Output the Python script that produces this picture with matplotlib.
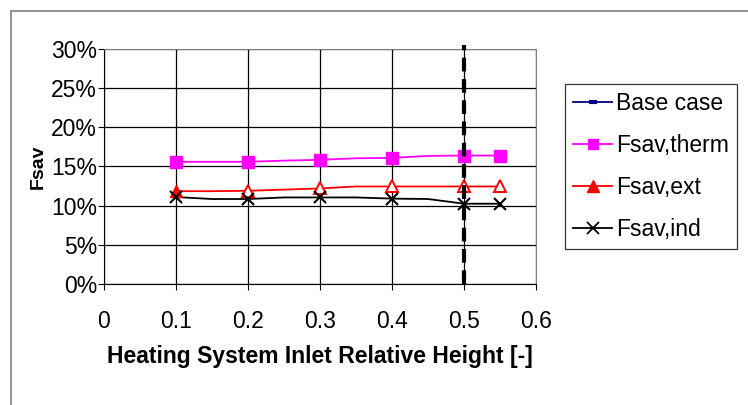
import matplotlib
matplotlib.use("Agg")
import matplotlib.pyplot as plt
from matplotlib.lines import Line2D
from matplotlib.patches import Rectangle

plt.rcParams['font.family'] = ['Liberation Sans', 'DejaVu Sans']

# line data (every 0.05)
x_line = [0.10, 0.15, 0.20, 0.25, 0.30, 0.35, 0.40, 0.45, 0.50, 0.55]
therm_line = [15.6, 15.6, 15.6, 15.75, 15.85, 16.05, 16.1, 16.35, 16.4, 16.4]
ext_line = [11.85, 11.85, 11.9, 12.05, 12.2, 12.45, 12.45, 12.45, 12.45, 12.45]
ind_line = [11.1, 10.85, 10.85, 11.05, 11.05, 11.05, 10.9, 10.85, 10.25, 10.25]

# marker data
x_mark = [0.1, 0.2, 0.3, 0.4, 0.5, 0.55]
therm_mark = [15.6, 15.6, 15.85, 16.1, 16.4, 16.4]
ext_mark = [11.85, 11.9, 12.2, 12.45, 12.45, 12.45]
ind_mark = [11.1, 10.85, 11.05, 10.9, 10.25, 10.25]

base_x = 0.5
x_ticks = [0, 0.1, 0.2, 0.3, 0.4, 0.5, 0.6]
x_ticklabels = ['0', '0.1', '0.2', '0.3', '0.4', '0.5', '0.6']
y_ticks = [0, 5, 10, 15, 20, 25, 30]
y_ticklabels = ['0%', '5%', '10%', '15%', '20%', '25%', '30%']

fig = plt.figure(figsize=(7.48, 4.05), dpi=100)
fig.patches.append(Rectangle((11/748, -0.1), 1.2, (405-11)/405 + 0.1,
                             transform=fig.transFigure, fill=False,
                             edgecolor='#808080', linewidth=1.2))
ax = fig.add_axes([104/748, (405-284)/405, 432/748, 235/405])

ax.set_xlim(0, 0.6)
ax.set_ylim(0, 30)
ax.set_xticks(x_ticks)
ax.set_xticklabels(x_ticklabels)
ax.set_yticks(y_ticks)
ax.set_yticklabels(y_ticklabels)
ax.grid(True, color='black', linewidth=0.9)
ax.set_axisbelow(True)
for s in ['top', 'right']:
    ax.spines[s].set_color('#808080')
for s in ['left', 'bottom']:
    ax.spines[s].set_color('black')
ax.tick_params(direction='out', length=4, labelsize=16.5, pad=1)
ax.tick_params(axis='x', pad=15)

# base case vertical dashed
ax.plot([base_x, base_x], [0, 30.5], color='black', linewidth=3,
        linestyle=(0, (3.3, 1.8)), clip_on=False, zorder=5)

ax.plot(x_line, therm_line, color='#ff00ff', linewidth=1.3, zorder=3)
ax.plot(x_mark, therm_mark, linestyle='none', marker='s', markersize=8,
        color='#ff00ff', zorder=4)
ax.plot(x_line, ext_line, color='red', linewidth=1.3, zorder=3)
ax.plot(x_mark[:1], ext_mark[:1], linestyle='none', marker='^', markersize=8,
        color='red', zorder=4)
ax.plot(x_mark[1:], ext_mark[1:], linestyle='none', marker='^', markersize=9,
        markerfacecolor='white', markeredgecolor='red', markeredgewidth=1.4, zorder=4)
ax.plot(x_line, ind_line, color='black', linewidth=1.3, zorder=3)
ax.plot(x_mark, ind_mark, linestyle='none', marker='x', markersize=9,
        markeredgewidth=1.5, color='black', zorder=6)

ax.set_xlabel('Heating System Inlet Relative Height [-]', fontsize=16.5,
              fontweight='bold', labelpad=8)
ax.set_ylabel('Fsav', fontsize=14, fontweight='bold', labelpad=3)

handles = [
    Line2D([], [], color='#000080', linewidth=1.3, marker='_', markersize=6,
           markeredgewidth=3, markeredgecolor='#000080'),
    Line2D([], [], color='#ff00ff', linewidth=1.3, marker='s', markersize=7),
    Line2D([], [], color='red', linewidth=1.3, marker='^', markersize=8),
    Line2D([], [], color='black', linewidth=1.3, marker='x', markersize=8,
           markeredgewidth=1.3),
]
labels = ['Base case', 'Fsav,therm', 'Fsav,ext', 'Fsav,ind']
leg = fig.legend(handles, labels, loc='upper left',
                 bbox_to_anchor=(565/748, 1 - 84/405), fontsize=16.5,
                 frameon=True, fancybox=False, edgecolor='black',
                 handlelength=1.7, handletextpad=0.15, labelspacing=0.82,
                 borderpad=0.36, borderaxespad=0)
leg.get_frame().set_linewidth(0.9)

fig.savefig('out.png', dpi=100)
